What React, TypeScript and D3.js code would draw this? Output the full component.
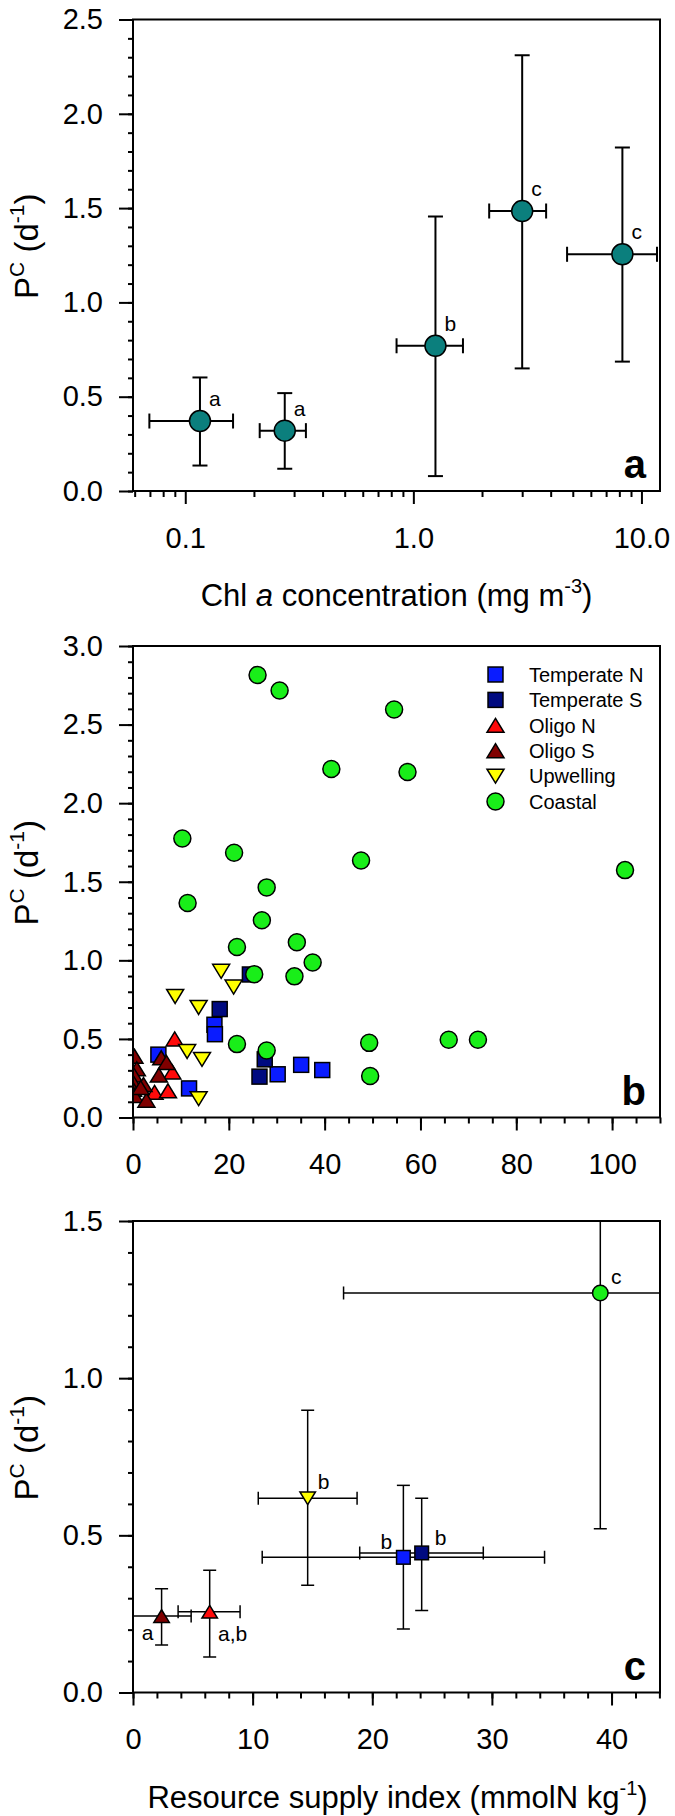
import React, { useEffect, useRef } from "react";
import * as d3 from "d3";

// panel a: PC vs Chl a (log axis), mean with x / y error bars
const chlMean = [0.116, 0.273, 1.25, 3.0, 8.25];
const chlLow = [0.0696, 0.212, 0.844, 2.15, 4.72];
const chlHigh = [0.162, 0.338, 1.65, 3.82, 11.7];
const pcChl = [0.371, 0.32, 0.77, 1.484, 1.255];
const pcChlLow = [0.135, 0.118, 0.079, 0.65, 0.686];
const pcChlHigh = [0.602, 0.519, 1.456, 2.31, 1.821];
const chlGroups = ["a", "a", "b", "c", "c"];

// panel b: individual stations
const categories = ["Temperate N", "Temperate S", "Oligo N", "Oligo S", "Upwelling", "Coastal"];
const tempNX = [5.3, 17.0, 17.1, 11.7, 30.2, 35.1, 39.5];
const tempNY = [0.4, 0.59, 0.53, 0.185, 0.275, 0.335, 0.302];
const tempSX = [18.1, 24.4, 26.4, 27.5];
const tempSY = [0.69, 0.91, 0.26, 0.37];
const oligoNX = [8.7, 8.2, 4.5, 7.3];
const oligoNY = [0.5, 0.29, 0.16, 0.17];
const oligoSX = [0.3, 0.8, 0.2, 0.1, 2.2, 0.0, 0.3, 2.8, 5.9, 7.0, 5.4, 1.6];
const oligoSY = [0.39, 0.31, 0.27, 0.22, 0.21, 0.18, 0.14, 0.11, 0.38, 0.35, 0.27, 0.19];
const upwX = [8.8, 13.7, 18.4, 21.0, 11.3, 14.4, 13.7];
const upwY = [0.77, 0.7, 0.93, 0.83, 0.42, 0.37, 0.12];
const coastX = [26.0, 30.6, 54.5, 41.4, 57.3, 10.3, 21.1, 47.6, 102.7, 27.9, 11.4, 26.9, 34.2, 21.7, 37.5, 25.3, 33.7, 21.7, 27.9, 49.3, 65.9, 72.0, 49.5];
const coastY = [2.816, 2.717, 2.596, 2.217, 2.198, 1.775, 1.684, 1.635, 1.574, 1.464, 1.365, 1.255, 1.115, 1.085, 0.986, 0.912, 0.898, 0.467, 0.426, 0.475, 0.495, 0.495, 0.264];

// panel c: group means vs resource supply index
const rsiMean = [2.39, 6.41, 14.6, 22.6, 24.13, 39.06];
const rsiLow = [-0.08, 3.77, 10.47, 10.8, 18.95, 17.6];
const rsiHigh = [4.86, 8.95, 18.73, 34.4, 29.28, 60.5];
const pcRsi = [0.243, 0.257, 0.618, 0.43, 0.444, 1.271];
const pcRsiLow = [0.151, 0.113, 0.341, 0.202, 0.261, 0.521];
const pcRsiHigh = [0.33, 0.389, 0.898, 0.659, 0.618, 2.02];
const rsiCategories = ["Oligo S", "Oligo N", "Upwelling", "Temperate N", "Temperate S", "Coastal"];
const rsiGroups = ["a", "a,b", "b", "b", "b", "c"];

const FONT = "'Liberation Sans', Arial, sans-serif";
const styles: any = {
  "Temperate N": { shape: "square", fill: "#0a1cff" },
  "Temperate S": { shape: "square", fill: "#000a80" },
  "Oligo N": { shape: "up", fill: "#ff0a0a" },
  "Oligo S": { shape: "up", fill: "#800000" },
  "Upwelling": { shape: "down", fill: "#ffff00" },
  "Coastal": { shape: "circle", fill: "#19ee19" },
};

function marker(g, shape, cx, cy, size, fill) {
  if (shape === "circle") {
    g.append("circle").attr("cx", cx).attr("cy", cy).attr("r", size / 2)
      .attr("fill", fill).attr("stroke", "#000").attr("stroke-width", 1.5);
  } else if (shape === "square") {
    var s = size * 0.88;
    g.append("rect").attr("x", cx - s / 2).attr("y", cy - s / 2).attr("width", s).attr("height", s)
      .attr("fill", fill).attr("stroke", "#000").attr("stroke-width", 1.5);
  } else {
    var w = size, h = size * 0.82;
    var pts = shape === "up"
      ? [[cx, cy - h / 2], [cx + w / 2, cy + h / 2], [cx - w / 2, cy + h / 2]]
      : [[cx, cy + h / 2], [cx + w / 2, cy - h / 2], [cx - w / 2, cy - h / 2]];
    g.append("path").attr("d", "M" + pts.map((p) => p.join(",")).join("L") + "Z")
      .attr("fill", fill).attr("stroke", "#000").attr("stroke-width", 1.5);
  }
}

function clip(svg, x0, y0, w, h, id) {
  svg.append("defs").append("clipPath").attr("id", id)
    .append("rect").attr("x", x0).attr("y", y0).attr("width", w).attr("height", h);
}

function leftAxis(svg, y, x0, majors, minors) {
  var gMin = svg.append("g").attr("transform", `translate(${x0},0)`)
    .call(d3.axisLeft(y).tickValues(minors).tickSize(5).tickFormat(() => ""));
  gMin.select(".domain").remove();
  gMin.selectAll("line").attr("stroke-width", 2);
  var g = svg.append("g").attr("transform", `translate(${x0},0)`)
    .call(d3.axisLeft(y).tickValues(majors).tickSize(14).tickPadding(16).tickFormat(d3.format(".1f")));
  g.select(".domain").remove();
  g.selectAll("line").attr("stroke-width", 2);
  g.selectAll("text").attr("font-size", 29).attr("font-family", FONT).attr("fill", "#000");
}

function bottomAxis(svg, x, y0, majors, minors, fmt) {
  var gMin = svg.append("g").attr("transform", `translate(0,${y0})`)
    .call(d3.axisBottom(x).tickValues(minors).tickSize(6).tickFormat(() => ""));
  gMin.select(".domain").remove();
  gMin.selectAll("line").attr("stroke-width", 2);
  var g = svg.append("g").attr("transform", `translate(0,${y0})`)
    .call(d3.axisBottom(x).tickValues(majors).tickSize(13).tickPadding(23).tickFormat(fmt));
  g.select(".domain").remove();
  g.selectAll("line").attr("stroke-width", 2);
  g.selectAll("text").attr("font-size", 29).attr("font-family", FONT).attr("fill", "#000");
}

function box(svg, x0, y0, w, h) {
  svg.append("rect").attr("x", x0).attr("y", y0).attr("width", w).attr("height", h)
    .attr("fill", "none").attr("stroke", "#000").attr("stroke-width", 2);
}

function yTitle(svg, x, y) {
  var t = svg.append("text").attr("transform", `translate(${x},${y}) rotate(-90)`)
    .attr("text-anchor", "middle").attr("font-size", 33).attr("font-family", FONT);
  t.append("tspan").text("P");
  t.append("tspan").attr("dy", -14).attr("font-size", 21).text("C");
  t.append("tspan").attr("dy", 14).text(" (d");
  t.append("tspan").attr("dy", -14).attr("font-size", 21).text("-1");
  t.append("tspan").attr("dy", 14).text(")");
}

function panelLetter(svg, x, y, s) {
  svg.append("text").attr("x", x).attr("y", y).attr("text-anchor", "end")
    .attr("font-size", 40).attr("font-weight", "bold").attr("font-family", FONT).text(s);
}

function errorBars(g, cx, cy, xl, xh, yl, yh, cap, sw) {
  g.append("line").attr("x1", xl).attr("x2", xh).attr("y1", cy).attr("y2", cy).attr("stroke", "#000").attr("stroke-width", sw);
  g.append("line").attr("x1", cx).attr("x2", cx).attr("y1", yl).attr("y2", yh).attr("stroke", "#000").attr("stroke-width", sw);
  [xl, xh].forEach((x) => g.append("line").attr("x1", x).attr("x2", x).attr("y1", cy - cap).attr("y2", cy + cap).attr("stroke", "#000").attr("stroke-width", sw));
  [yl, yh].forEach((y) => g.append("line").attr("x1", cx - cap).attr("x2", cx + cap).attr("y1", y).attr("y2", y).attr("stroke", "#000").attr("stroke-width", sw));
}

export default function App() {
  const ref = useRef(null);

  useEffect(() => {
    var svg = d3.select(ref.current);
    svg.selectAll("*").remove();

    var left = 133, right = 660, w = right - left, h = 471.5;

    // ---------- panel a ----------
    var topA = 19.5;
    var xA = d3.scaleLog().domain([0.059, 12.06]).range([left, right]);
    var yA = d3.scaleLinear().domain([0, 2.5]).range([topA + h, topA]);
    clip(svg, left, topA, w, h, "clipA");
    var minorsA = [0.06, 0.07, 0.08, 0.09, 0.2, 0.3, 0.4, 0.5, 0.6, 0.7, 0.8, 0.9, 2, 3, 4, 5, 6, 7, 8, 9];
    bottomAxis(svg, xA, topA + h, [0.1, 1, 10], minorsA, d3.format(".1f"));
    leftAxis(svg, yA, left, d3.range(0, 2.51, 0.5), d3.range(0, 2.51, 0.1));
    var gA = svg.append("g").attr("clip-path", "url(#clipA)");
    chlMean.forEach((m, i) => {
      errorBars(gA, xA(m), yA(pcChl[i]), xA(chlLow[i]), xA(chlHigh[i]), yA(pcChlLow[i]), yA(pcChlHigh[i]), 7.5, 2);
    });
    chlMean.forEach((m, i) => {
      marker(gA, "circle", xA(m), yA(pcChl[i]), 21, "#0b7f7d");
      svg.append("text").attr("x", xA(m) + 9).attr("y", yA(pcChl[i]) - 15)
        .attr("font-size", 21).attr("font-family", FONT).text(chlGroups[i]);
    });
    box(svg, left, topA, w, h);
    panelLetter(svg, 646, topA + h - 13, "a");
    yTitle(svg, 38, topA + h / 2 - 9);
    var tA = svg.append("text").attr("x", (left + right) / 2).attr("y", 606)
      .attr("text-anchor", "middle").attr("font-size", 31).attr("font-family", FONT);
    tA.append("tspan").text("Chl ");
    tA.append("tspan").attr("font-style", "italic").text("a");
    tA.append("tspan").text(" concentration (mg m");
    tA.append("tspan").attr("dy", -13).attr("font-size", 20).text("-3");
    tA.append("tspan").attr("dy", 13).text(")");

    // ---------- panel b ----------
    var topB = 646;
    var xB = d3.scaleLinear().domain([0, 110]).range([left, right]);
    var yB = d3.scaleLinear().domain([0, 3]).range([topB + h, topB]);
    clip(svg, left, topB, w, h, "clipB");
    bottomAxis(svg, xB, topB + h, d3.range(0, 101, 20), d3.range(0, 111, 5), d3.format("d"));
    leftAxis(svg, yB, left, d3.range(0, 3.01, 0.5), d3.range(0, 3.01, 0.1));
    var gB = svg.append("g").attr("clip-path", "url(#clipB)");
    var series = [
      [tempNX, tempNY], [tempSX, tempSY], [oligoNX, oligoNY],
      [oligoSX, oligoSY], [upwX, upwY], [coastX, coastY],
    ];
    series.forEach(([xs, ys], k) => {
      var st = styles[categories[k]];
      xs.forEach((x, i) => marker(gB, st.shape, xB(x), yB(ys[i]), 17, st.fill));
    });
    categories.forEach((c, k) => {
      var st = styles[c];
      var ly = topB + 28.5 + k * 25.4;
      marker(svg, st.shape, 495.5, ly, 17, st.fill);
      svg.append("text").attr("x", 529).attr("y", ly).attr("dy", "0.36em")
        .attr("font-size", 20).attr("font-family", FONT).text(c);
    });
    box(svg, left, topB, w, h);
    panelLetter(svg, 646, topB + h - 13, "b");
    yTitle(svg, 38, topB + h / 2 - 9);

    // ---------- panel c ----------
    var topC = 1221;
    var xC = d3.scaleLinear().domain([0, 44.05]).range([left, right]);
    var yC = d3.scaleLinear().domain([0, 1.5]).range([topC + h, topC]);
    clip(svg, left, topC, w, h, "clipC");
    bottomAxis(svg, xC, topC + h, d3.range(0, 41, 10), d3.range(0, 45, 2), d3.format("d"));
    leftAxis(svg, yC, left, d3.range(0, 1.51, 0.5), d3.range(0, 1.51, 0.1));
    var gC = svg.append("g").attr("clip-path", "url(#clipC)");
    rsiMean.forEach((m, i) => {
      errorBars(gC, xC(m), yC(pcRsi[i]), xC(rsiLow[i]), xC(rsiHigh[i]), yC(pcRsiLow[i]), yC(pcRsiHigh[i]), 6.5, 1.5);
    });
    var labelOffsets = [[-14, 17], [23, 22], [16, -17], [-17, -16], [19, -15], [16, -16]];
    rsiMean.forEach((m, i) => {
      var st = styles[rsiCategories[i]];
      marker(gC, st.shape, xC(m), yC(pcRsi[i]), 15.5, st.fill);
      svg.append("text").attr("x", xC(m) + labelOffsets[i][0]).attr("y", yC(pcRsi[i]) + labelOffsets[i][1])
        .attr("dy", "0.35em").attr("text-anchor", "middle")
        .attr("font-size", 21).attr("font-family", FONT).text(rsiGroups[i]);
    });
    box(svg, left, topC, w, h);
    panelLetter(svg, 646, topC + h - 13, "c");
    yTitle(svg, 38, topC + h / 2 - 9);
    var tC = svg.append("text").attr("x", (left + right) / 2 + 1).attr("y", 1808)
      .attr("text-anchor", "middle").attr("font-size", 31).attr("font-family", FONT);
    tC.append("tspan").text("Resource supply index (mmolN kg");
    tC.append("tspan").attr("dy", -13).attr("font-size", 20).text("-1");
    tC.append("tspan").attr("dy", 13).text(")");
  }, []);

  return (
    <svg
      ref={ref}
      width={675}
      height={1816}
      style={{ position: "absolute", left: 0, top: 0, background: "#fff" }}
    ></svg>
  );
}
